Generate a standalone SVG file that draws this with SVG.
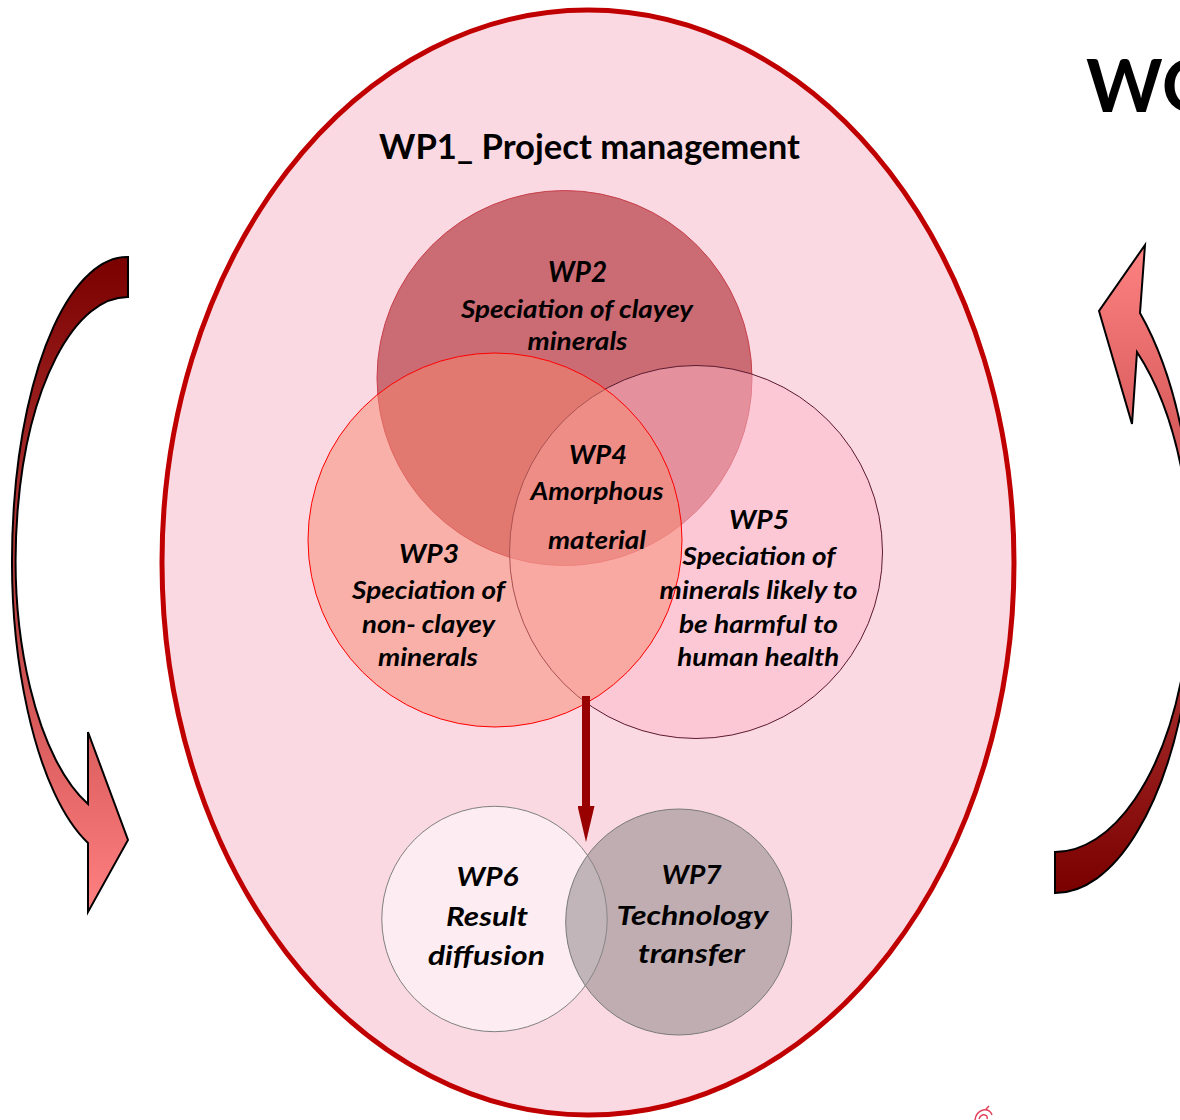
<svg xmlns="http://www.w3.org/2000/svg" width="1180" height="1120" viewBox="0 0 1180 1120">
  <defs>
    <linearGradient id="gradDown" gradientUnits="userSpaceOnUse" x1="0" y1="257" x2="0" y2="912">
      <stop offset="0" stop-color="#7a0000"/>
      <stop offset="1" stop-color="#ff8080"/>
    </linearGradient>
    <linearGradient id="gradUp" gradientUnits="userSpaceOnUse" x1="0" y1="245" x2="0" y2="893">
      <stop offset="0" stop-color="#ff8282"/>
      <stop offset="1" stop-color="#7a0000"/>
    </linearGradient>
    <marker id="head" viewBox="0 0 36 17" refX="0" refY="8.5" markerWidth="36" markerHeight="17" markerUnits="userSpaceOnUse" orient="auto">
      <path d="M0 0 L36 8.5 L0 17 Z" fill="#990000"/>
    </marker>
  </defs>
  <style>
    .t { font-family: Lato, "Open Sans", "Liberation Sans", sans-serif; font-weight: 700; font-style: italic; fill: #000; text-anchor: middle; }
    .lab { font-size: 26px; }
    .body { font-size: 24.5px; }
    .big { font-size: 27px; }
    .cycle { stroke: #000; stroke-width: 2; stroke-linejoin: miter; }
  </style>
  <rect width="1180" height="1120" fill="#ffffff"/>

  <g id="wp1">
    <ellipse cx="588" cy="562.5" rx="426" ry="552.5" fill="#fad9e2" stroke="#c00000" stroke-width="5"/>
    <text x="589.5" y="159" textLength="421" lengthAdjust="spacingAndGlyphs" style="font-family: Lato, 'Open Sans', 'Liberation Sans', sans-serif; font-weight: 700; font-size: 35px; text-anchor: middle;">WP1_ Project management</text>
  </g>

  <g id="title">
    <text x="1086" y="112" style="font-family: Lato, 'Open Sans', 'Liberation Sans', sans-serif; font-weight: 700; font-size: 73px;">WO</text>
  </g>

  <g id="wp2">
    <circle cx="564.5" cy="378" r="187.5" fill="#cb6b73" stroke="#c8404c" stroke-width="1"/>
    <text class="t" style="font-size:28px" x="577.5" y="282" textLength="59" lengthAdjust="spacingAndGlyphs">WP2</text>
    <text class="t body" x="577" y="318" textLength="232" lengthAdjust="spacingAndGlyphs">Speciation of clayey</text>
    <text class="t body" x="577.5" y="350" textLength="100" lengthAdjust="spacingAndGlyphs">minerals</text>
  </g>

  <g id="wp5">
    <circle cx="696" cy="552" r="186.5" fill="#fdb7c7" fill-opacity="0.5" stroke="#5c1a2e" stroke-width="1"/>
  </g>

  <g id="wp3">
    <circle cx="495" cy="540" r="187" fill="#f7876f" fill-opacity="0.5" stroke="#ff0000" stroke-width="1"/>
    <text class="t lab" x="429" y="563" textLength="60" lengthAdjust="spacingAndGlyphs">WP3</text>
    <text class="t body" x="428.5" y="598.5" textLength="153" lengthAdjust="spacingAndGlyphs">Speciation of</text>
    <text class="t body" x="428.5" y="632.5" textLength="133" lengthAdjust="spacingAndGlyphs">non- clayey</text>
    <text class="t body" x="428" y="666" textLength="100" lengthAdjust="spacingAndGlyphs">minerals</text>
  </g>

  <g id="wp5-label">
    <text class="t lab" x="759" y="529" textLength="60" lengthAdjust="spacingAndGlyphs">WP5</text>
    <text class="t body" x="759" y="565" textLength="153" lengthAdjust="spacingAndGlyphs">Speciation of</text>
    <text class="t body" x="758.6" y="598.5" textLength="198" lengthAdjust="spacingAndGlyphs">minerals likely to</text>
    <text class="t body" x="758.4" y="632.5" textLength="159" lengthAdjust="spacingAndGlyphs">be harmful to</text>
    <text class="t body" x="758.3" y="666" textLength="162" lengthAdjust="spacingAndGlyphs">human health</text>
  </g>

  <g id="wp4">
    <text class="t lab" x="598" y="464" textLength="58" lengthAdjust="spacingAndGlyphs">WP4</text>
    <text class="t body" x="597" y="500" textLength="133" lengthAdjust="spacingAndGlyphs">Amorphous</text>
    <text class="t body" x="597" y="548.5" textLength="98" lengthAdjust="spacingAndGlyphs">material</text>
  </g>

  <g id="wp6">
    <circle cx="494.5" cy="919" r="112.7" fill="#ffffff" fill-opacity="0.5" stroke="#808080" stroke-width="1"/>
    <text class="t big" x="487.5" y="886" textLength="62" lengthAdjust="spacingAndGlyphs">WP6</text>
    <text class="t big" x="487" y="926" textLength="82" lengthAdjust="spacingAndGlyphs">Result</text>
    <text class="t big" x="486.4" y="965" textLength="117" lengthAdjust="spacingAndGlyphs">diffusion</text>
  </g>

  <g id="wp7">
    <circle cx="678.7" cy="922" r="113" fill="#8f898b" fill-opacity="0.55" stroke="#7a7a7a" stroke-width="1"/>
    <text class="t big" x="691.7" y="884" textLength="60" lengthAdjust="spacingAndGlyphs">WP7</text>
    <text class="t big" x="692.5" y="925" textLength="152" lengthAdjust="spacingAndGlyphs">Technology</text>
    <text class="t big" x="691.5" y="963" textLength="107" lengthAdjust="spacingAndGlyphs">transfer</text>
  </g>

  <g id="connectors">
    <line x1="586" y1="696" x2="586" y2="806" stroke="#990000" stroke-width="8" marker-end="url(#head)"/>
    <path class="cycle" fill="url(#gradDown)" d="M128 257 A115 302 0 0 0 88 843 L88 912 L128 840 L88 732 L88 804 A112 262 0 0 1 128 297 Z"/>
    <path class="cycle" fill="url(#gradUp)" d="M1055 893 A140 323 0 0 0 1140 313 L1145 245 L1099 311 L1132 424 L1137 352 A137 278 0 0 1 1055 852 Z"/>
  </g>

  <g id="mark">
    <path d="M975 1120 q1 -8 8 -10 q7 -1 9 5 M979 1119 q2 -5 6 -4 q3 1 2 4 M986 1109 l3 -3" fill="none" stroke="#e0405a" stroke-width="1.5"/>
  </g>
</svg>
